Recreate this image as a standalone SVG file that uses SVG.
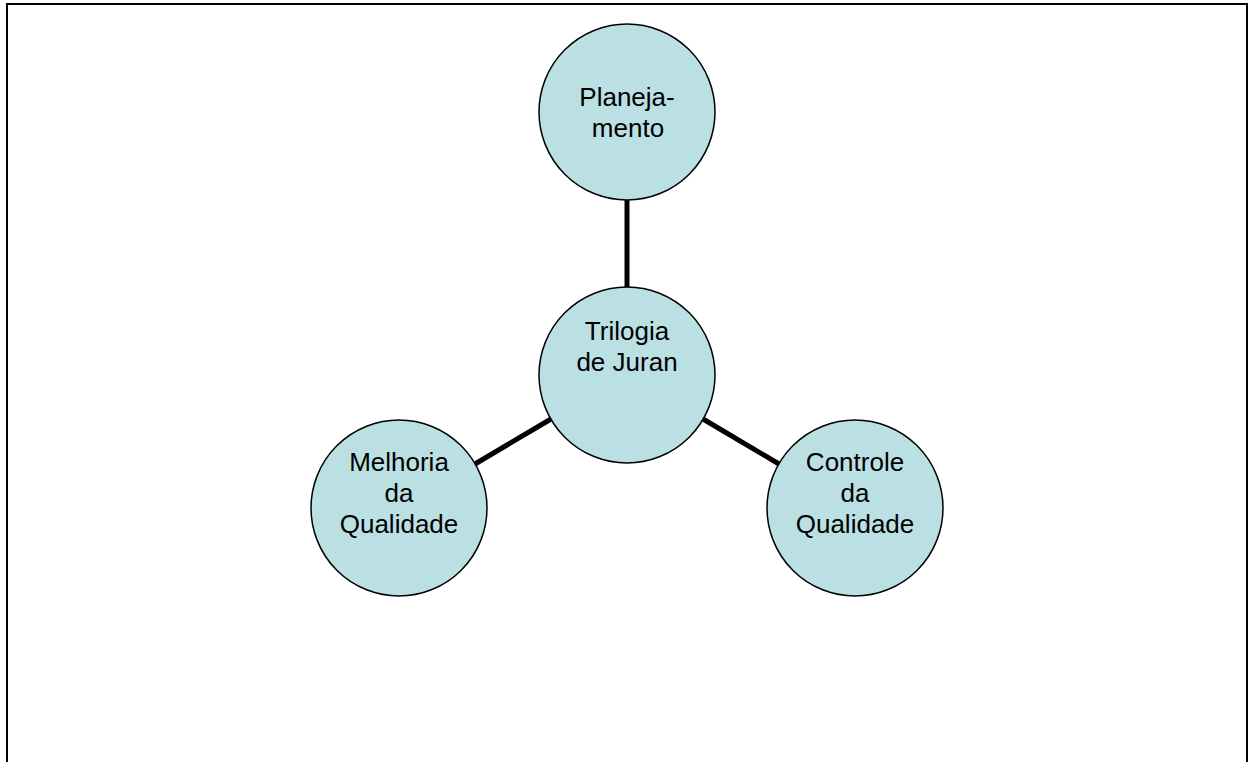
<svg xmlns="http://www.w3.org/2000/svg" width="1248" height="762" viewBox="0 0 1248 762">
<style>
.node circle{fill:#BBE0E3;stroke:#000;stroke-width:1.5}
.node text{font-family:"Liberation Sans",Arial,sans-serif;font-size:26px;fill:#000;text-anchor:middle}
.conn line{stroke:#000;stroke-width:5}
</style>
<rect width="1248" height="762" fill="#fff"/>
<path d="M7,762 V4 H1247 V762" fill="none" stroke="#000" stroke-width="2"/>
<g id="connectors" class="conn">
<line x1="627" y1="200" x2="627" y2="288"/>
<line x1="551" y1="419" x2="475" y2="464"/>
<line x1="703" y1="419" x2="779" y2="464"/>
</g>
<g id="planejamento" class="node">
<circle cx="627" cy="112" r="88"/>
<text x="627" y="105.5">Planeja-</text>
<text x="628" y="136.5">mento</text>
</g>
<g id="trilogia" class="node">
<circle cx="627" cy="375" r="88"/>
<text x="627" y="339.5">Trilogia</text>
<text x="627" y="370.5">de Juran</text>
</g>
<g id="melhoria" class="node">
<circle cx="399" cy="508" r="88"/>
<text x="399" y="471">Melhoria</text>
<text x="399" y="502">da</text>
<text x="399" y="533">Qualidade</text>
</g>
<g id="controle" class="node">
<circle cx="855" cy="508" r="88"/>
<text x="855" y="471">Controle</text>
<text x="855" y="502">da</text>
<text x="855" y="533">Qualidade</text>
</g>
</svg>
